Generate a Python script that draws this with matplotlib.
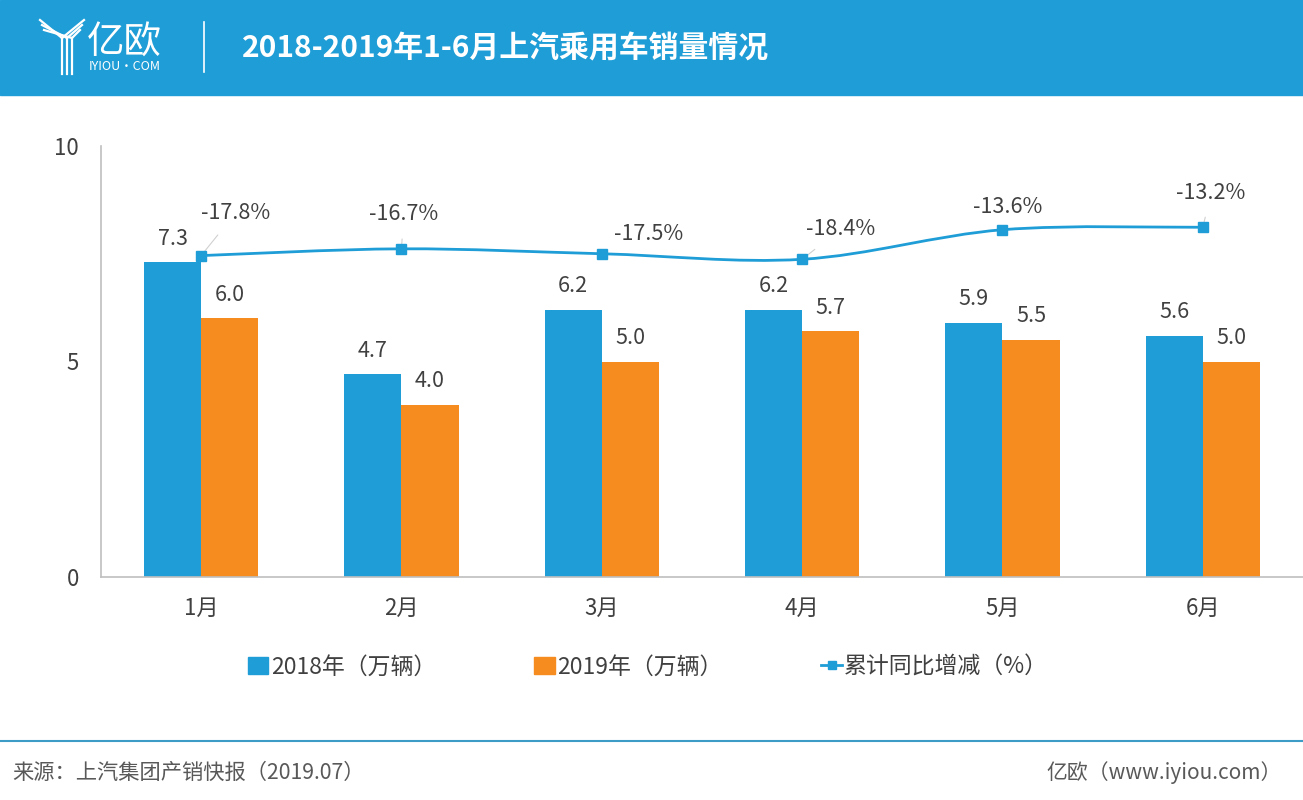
import numpy as np
import matplotlib.pyplot as plt
from matplotlib.patches import Rectangle, Patch
from matplotlib.lines import Line2D
from matplotlib.path import Path
from matplotlib.patches import PathPatch

plt.rcParams['font.family'] = ['Noto Sans CJK SC', 'DejaVu Sans']

# 数据
meses = ['1月', '2月', '3月', '4月', '5月', '6月']
ventas_2018 = [7.3, 4.7, 6.2, 6.2, 5.9, 5.6]
ventas_2019 = [6.0, 4.0, 5.0, 5.7, 5.5, 5.0]
acumulado = [-17.8, -16.7, -17.5, -18.4, -13.6, -13.2]
etiquetas_acum = ['-17.8%', '-16.7%', '-17.5%', '-18.4%', '-13.6%', '-13.2%']

AZUL = '#1f9dd6'
NARANJA = '#f68b1f'
TEXTO = '#404040'

fig = plt.figure(figsize=(13.03, 8), dpi=100)

# Banda superior
fig.patches.append(Rectangle((0, 1 - 95 / 800), 1, 95 / 800, transform=fig.transFigure,
                             color=AZUL, zorder=0))
fig.text(242 / 1303, 1 - 48 / 800, '2018-2019年1-6月上汽乘用车销量情况', color='white',
         fontsize=21.5, fontweight='bold', va='center', ha='left')
# Logo simple
fig.text(87 / 1303, 1 - 42 / 800, '亿欧', color='white', fontsize=27, va='center',
         ha='left', fontweight='light')
fig.text(89 / 1303, 1 - 67 / 800, 'IYIOU·COM', color='white', fontsize=9, va='center',
         ha='left')
for i, dx in enumerate([0, 5, 10]):
    fig.add_artist(Line2D([(62 + dx) / 1303, (62 + dx) / 1303], [1 - 74 / 800, 1 - 38 / 800],
                          color='white', lw=1.6, transform=fig.transFigure))
    fig.add_artist(Line2D([(40 + dx * 0.4) / 1303, (62 + dx) / 1303],
                          [1 - (20 + dx) / 800, 1 - 38 / 800],
                          color='white', lw=1.6, transform=fig.transFigure))
    fig.add_artist(Line2D([(62 + dx) / 1303, (84 - dx * 0.4) / 1303],
                          [1 - 38 / 800, 1 - (20 + dx) / 800],
                          color='white', lw=1.6, transform=fig.transFigure))
fig.add_artist(Line2D([204 / 1303, 204 / 1303], [1 - 72 / 800, 1 - 22 / 800],
                      color='white', lw=1.2, transform=fig.transFigure))

# Ejes principales
ax = fig.add_axes([101 / 1303, 1 - 577 / 800, 1 - 101 / 1303, (577 - 146) / 800])
x = np.arange(len(meses))
ancho = 0.285
b1 = ax.bar(x - ancho / 2, ventas_2018, ancho, color=AZUL, zorder=2)
b2 = ax.bar(x + ancho / 2, ventas_2019, ancho, color=NARANJA, zorder=2)
for rects, vals in ((b1, ventas_2018), (b2, ventas_2019)):
    for r, v in zip(rects, vals):
        ax.annotate(f'{v:.1f}', (r.get_x() + r.get_width() / 2, v), xytext=(0, 9),
                    textcoords='offset points', ha='center', va='bottom',
                    fontsize=15.5, color=TEXTO, fontweight='light')

ax.set_xlim(-0.5, len(meses) - 0.5)
ax.set_ylim(0, 10)
ax.set_yticks([0, 5, 10])
ax.set_xticks(x)
ax.set_xticklabels(meses)
ax.tick_params(axis='both', length=0, labelsize=16, colors=TEXTO)
ax.tick_params(axis='y', pad=16)
ax.tick_params(axis='x', pad=14)
for lado in ('top', 'right'):
    ax.spines[lado].set_visible(False)
ax.spines['left'].set_color('#bfbfbf')
ax.spines['bottom'].set_color('#bfbfbf')
ax.spines['left'].set_linewidth(1.2)
ax.spines['bottom'].set_linewidth(1.2)

# Eje secundario (oculto) para la linea
ax2 = ax.twinx()
ax2.set_ylim(-70, 0)
ax2.axis('off')

# Curva suave tipo Catmull-Rom
pts = np.column_stack([x, acumulado]).astype(float)
verts = [tuple(pts[0])]
codes = [Path.MOVETO]
for i in range(len(pts) - 1):
    p0 = pts[i - 1] if i > 0 else pts[i]
    p1, p2 = pts[i], pts[i + 1]
    p3 = pts[i + 2] if i + 2 < len(pts) else pts[i + 1]
    c1 = p1 + (p2 - p0) / 6
    c2 = p2 - (p3 - p1) / 6
    verts += [tuple(c1), tuple(c2), tuple(p2)]
    codes += [Path.CURVE4] * 3
ax2.add_patch(PathPatch(Path(verts, codes), fill=False, edgecolor=AZUL, lw=2, zorder=3))
ax2.plot(x, acumulado, ls='none', marker='s', ms=7, color=AZUL, zorder=4)

offsets = [(25, 31), (1.5, 25), (34, 14), (28, 22), (3.6, 16.5), (6, 25)]
lider = [True, True, True, True, False, True]
for xi, v, t, off, l in zip(x, acumulado, etiquetas_acum, offsets, lider):
    ax2.annotate(t, (xi, v), xytext=off, textcoords='offset points', ha='center',
                 va='center', fontsize=15.5, color=TEXTO, fontweight='light',
                 arrowprops=dict(arrowstyle='-', color='#d0d0d0', lw=0.8,
                                 shrinkA=8, shrinkB=3) if l else None)

# Leyenda
manijas = [Patch(color=AZUL), Patch(color=NARANJA),
           Line2D([0], [0], color=AZUL, lw=2, marker='s', ms=6)]
fig.legend(manijas, ['2018年（万辆）', '2019年（万辆）', '累计同比增减（%）'],
           loc='center', bbox_to_anchor=(648 / 1303, 1 - 667 / 800), ncol=3, frameon=False,
           fontsize=16.5, handlelength=0.9, handletextpad=0.1, columnspacing=4.3,
           labelcolor=TEXTO)

# Pie
fig.add_artist(Line2D([0, 1], [1 - 741 / 800, 1 - 741 / 800], color='#3d9cc6', lw=1.5,
                      transform=fig.transFigure))
fig.text(12 / 1303, 1 - 773 / 800, '来源：上汽集团产销快报（2019.07）', fontsize=15.3,
         color='#595959', va='center', ha='left', fontweight='light')
fig.text(1282 / 1303, 1 - 773 / 800, '亿欧（www.iyiou.com）', fontsize=15,
         color='#595959', va='center', ha='right', fontweight='light')

fig.savefig('out.png', dpi=100)
